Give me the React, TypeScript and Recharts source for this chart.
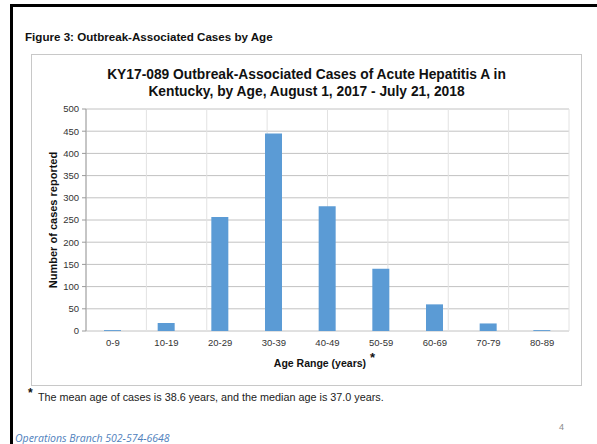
import React from 'react';
import { BarChart, Bar, XAxis, YAxis, CartesianGrid } from 'recharts';

const ageRanges = ['0-9', '10-19', '20-29', '30-39', '40-49', '50-59', '60-69', '70-79', '80-89'];
const caseCounts = [2, 18, 257, 445, 281, 140, 60, 17, 2];
const yTicks = [0, 50, 100, 150, 200, 250, 300, 350, 400, 450, 500];
// category edges on a 0..9 numeric axis, used for tick marks and vertical grid lines
const edgeTicks = [0, 1, 2, 3, 4, 5, 6, 7, 8, 9];

const data = ageRanges.map((age, i) => ({ age, cases: caseCounts[i] }));

const FONT = '"Liberation Sans", Arial, sans-serif';

const AgeAxisLabel = ({ viewBox }: any) => {
  const cx = viewBox.x + viewBox.width / 2;
  return (
    <text x={cx - 3} y={viewBox.y + 36} textAnchor="middle" fontFamily={FONT} fontSize={10.5} fontWeight="bold" fill="#111">
      Age Range (years)
      <tspan dx={4} dy={-5} fontSize={13}>*</tspan>
    </text>
  );
};

const CasesAxisLabel = ({ viewBox }: any) => {
  const x = viewBox.x + 21;
  const y = viewBox.y + viewBox.height / 2;
  return (
    <text x={x} y={y} transform={`rotate(-90 ${x} ${y})`} textAnchor="middle" dominantBaseline="central" fontFamily={FONT} fontSize={11} fontWeight="bold" fill="#111">
      Number of cases reported
    </text>
  );
};

export default function App() {
  return (
    <div style={{ position: 'absolute', left: 0, top: 0, width: 597, height: 444, background: '#fff', fontFamily: FONT, overflow: 'hidden' }}>
      {/* slide border */}
      <div style={{ position: 'absolute', left: 10, top: 4, width: 587, height: 3, background: '#000' }} />
      <div style={{ position: 'absolute', left: 10, top: 4, width: 3, height: 440, background: '#000' }} />

      <div style={{ position: 'absolute', left: 25, top: 30, fontSize: 11.6, fontWeight: 'bold', color: '#111', whiteSpace: 'nowrap' }}>
        Figure 3: Outbreak-Associated Cases by Age
      </div>

      {/* chart frame */}
      <div style={{ position: 'absolute', left: 31, top: 54, width: 549, height: 330, border: '1px solid #c8c8c8' }}>
        <div style={{ position: 'absolute', left: 0, top: 11, width: 549, textAlign: 'center', fontSize: 13.8, fontWeight: 'bold', lineHeight: '17px', color: '#111' }}>
          KY17-089 Outbreak-Associated Cases of Acute Hepatitis A in
          <br />
          Kentucky, by Age, August 1, 2017 - July 21, 2018
        </div>
        <BarChart
          width={549}
          height={330}
          data={data}
          margin={{ top: 54, right: 12, left: 0, bottom: 0 }}
          style={{ position: 'absolute', left: 0, top: 0 }}
        >
          <CartesianGrid xAxisId="edge" vertical={false} stroke="#c2c2c2" />
          <CartesianGrid xAxisId="edge" horizontal={false} stroke="#e2e2e2" />
          <XAxis
            xAxisId="edge"
            type="number"
            domain={[0, 9]}
            allowDataOverflow
            ticks={edgeTicks}
            height={0}
            tickSize={4}
            tickFormatter={() => ''}
            stroke="#9a9a9a"
          />
          <XAxis
            xAxisId="cat"
            dataKey="age"
            height={54}
            axisLine={false}
            tickLine={false}
            tick={{ fontSize: 9.5, fill: '#333', fontFamily: FONT }}
            interval={0}
            label={<AgeAxisLabel />}
          />
          <YAxis
            domain={[0, 500]}
            ticks={yTicks}
            width={54}
            tickSize={4}
            tickMargin={3}
            interval={0}
            stroke="#9a9a9a"
            tick={{ fontSize: 9.5, fill: '#333', fontFamily: FONT }}
            label={<CasesAxisLabel />}
          />
          <Bar xAxisId="cat" dataKey="cases" fill="#5b9bd5" barSize={17} isAnimationActive={false} />
        </BarChart>
      </div>

      <div style={{ position: 'absolute', left: 28, top: 386, fontSize: 12, fontWeight: 'bold', color: '#111' }}>*</div>
      <div style={{ position: 'absolute', left: 38, top: 391, fontSize: 10.8, color: '#222', whiteSpace: 'nowrap' }}>
        The mean age of cases is 38.6 years, and the median age is 37.0 years.
      </div>

      <div style={{ position: 'absolute', left: 559, top: 422, fontSize: 9, color: '#8a8a8a' }}>4</div>
      <div style={{ position: 'absolute', left: 15, top: 431, fontSize: 10.5, fontStyle: 'italic', color: '#4f81bd', fontFamily: '"Open Sans", sans-serif', whiteSpace: 'nowrap' }}>
        Operations Branch 502-574-6648
      </div>
    </div>
  );
}
